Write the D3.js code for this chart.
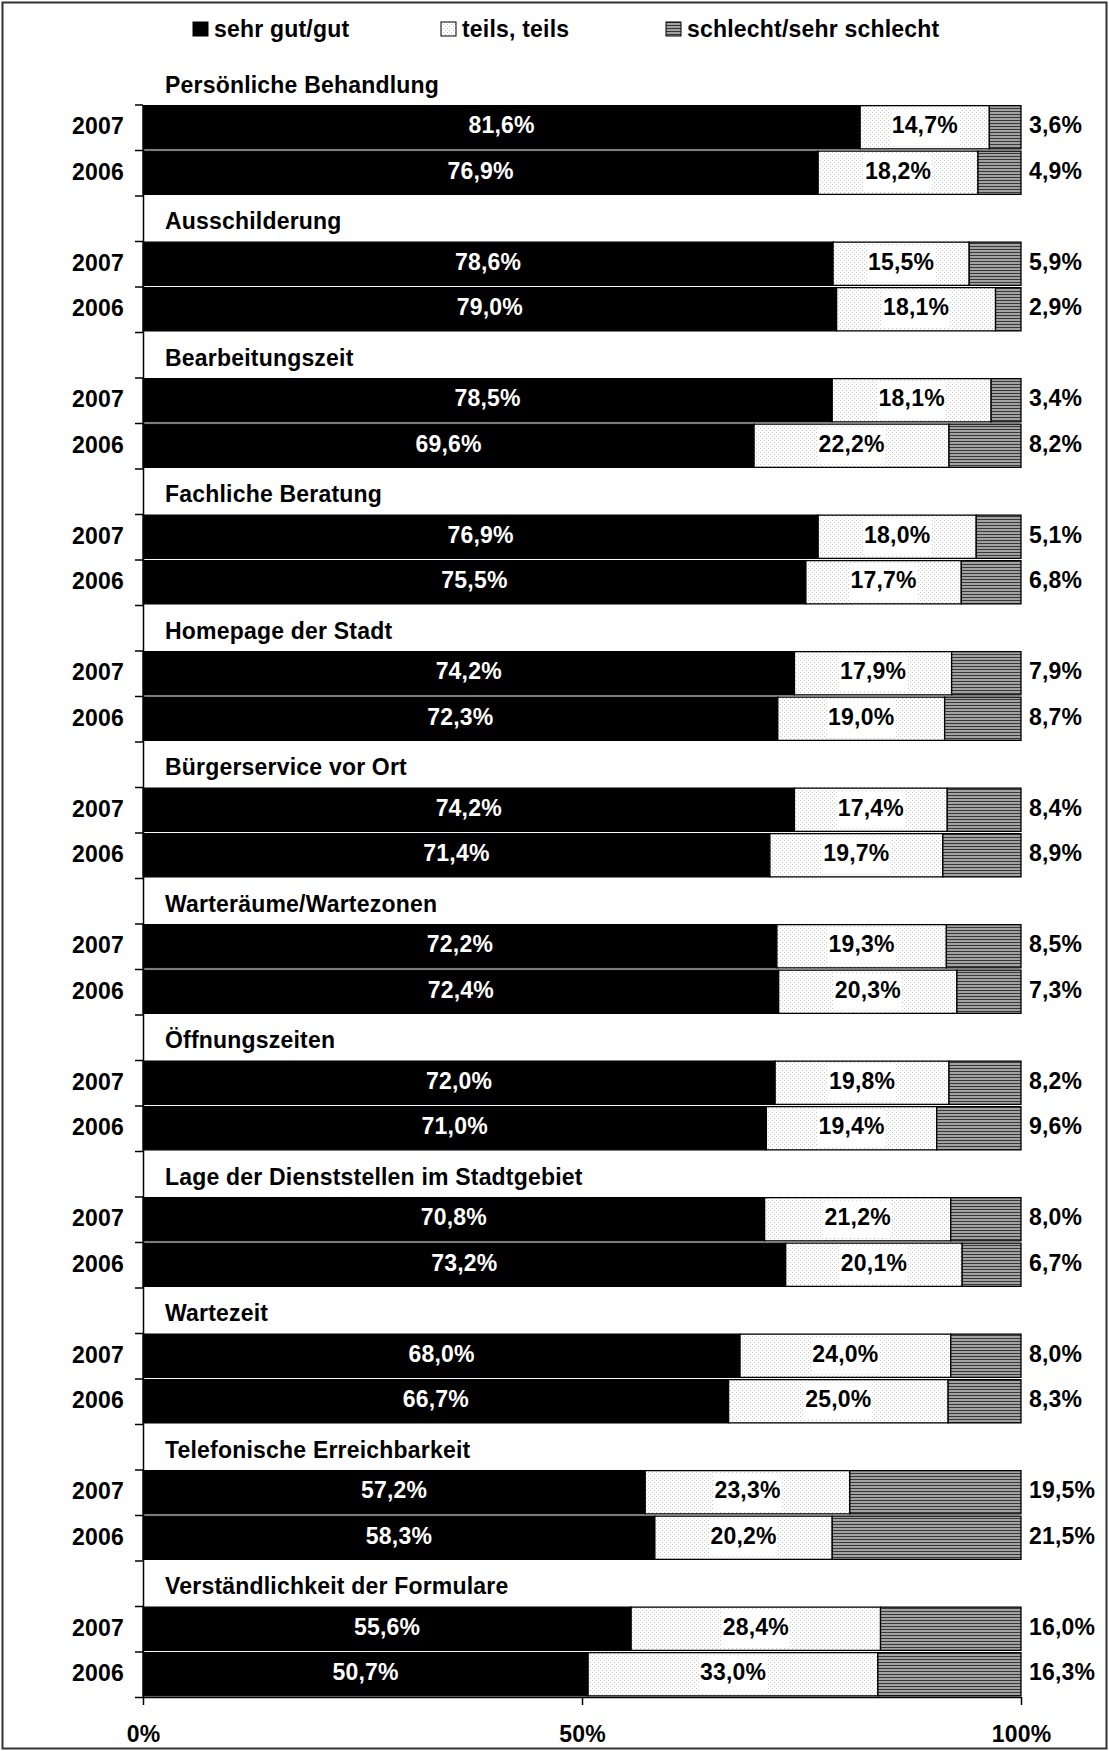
<!DOCTYPE html>
<html lang="de">
<head>
    <meta charset="UTF-8">
    <title>Zufriedenheit 2006/2007</title>
    <style>
        body {
            margin: 0;
            background: #fff;
        }
        svg text {
            font-family: "Liberation Sans", Arial, sans-serif;
            font-weight: bold;
            font-size: 23px;
            letter-spacing: 0.2px;
        }
        .axis path, .axis line {
            stroke: #000;
            stroke-width: 1.5px;
        }
    </style>
    <script src="https://d3js.org/d3.v7.min.js"></script>
</head>
<body>
<div id="chart"></div>
<script>
    // data
    var categories = ["Persönliche Behandlung", "Ausschilderung", "Bearbeitungszeit", "Fachliche Beratung",
        "Homepage der Stadt", "Bürgerservice vor Ort", "Warteräume/Wartezonen", "Öffnungszeiten",
        "Lage der Dienststellen im Stadtgebiet", "Wartezeit", "Telefonische Erreichbarkeit",
        "Verständlichkeit der Formulare"];
    var years = ["2007", "2006"];
    var seriesNames = ["sehr gut/gut", "teils, teils", "schlecht/sehr schlecht"];

    var good2007 = [81.6, 78.6, 78.5, 76.9, 74.2, 74.2, 72.2, 72.0, 70.8, 68.0, 57.2, 55.6];
    var mid2007  = [14.7, 15.5, 18.1, 18.0, 17.9, 17.4, 19.3, 19.8, 21.2, 24.0, 23.3, 28.4];
    var bad2007  = [3.6, 5.9, 3.4, 5.1, 7.9, 8.4, 8.5, 8.2, 8.0, 8.0, 19.5, 16.0];
    var good2006 = [76.9, 79.0, 69.6, 75.5, 72.3, 71.4, 72.4, 71.0, 73.2, 66.7, 58.3, 50.7];
    var mid2006  = [18.2, 18.1, 22.2, 17.7, 19.0, 19.7, 20.3, 19.4, 20.1, 25.0, 20.2, 33.0];
    var bad2006  = [4.9, 2.9, 8.2, 6.8, 8.7, 8.9, 7.3, 9.6, 6.7, 8.3, 21.5, 16.3];
    var axisTicks = [0, 0.5, 1];

    var width = 1109, height = 1751;
    var margin = {left: 143, right: 88, top: 59, bottom: 54};

    // one title row + two year rows per category
    var rows = [];
    var bars = [];
    categories.forEach(function (c, i) {
        rows.push("t" + i);
        rows.push(i + "-" + years[0]);
        rows.push(i + "-" + years[1]);
        bars.push({key: i + "-" + years[0], year: years[0], good: good2007[i], mid: mid2007[i], bad: bad2007[i]});
        bars.push({key: i + "-" + years[1], year: years[1], good: good2006[i], mid: mid2006[i], bad: bad2006[i]});
    });

    var de = d3.formatLocale({decimal: ",", thousands: ".", grouping: [3], currency: ["", " €"]});
    var fmt = de.format(".1f");

    var svg = d3.select("#chart").append("svg")
        .attr("width", width)
        .attr("height", height);

    // patterns
    var defs = svg.append("defs");
    var dots = defs.append("pattern")
        .attr("id", "dots")
        .attr("patternUnits", "userSpaceOnUse")
        .attr("width", 4).attr("height", 4);
    dots.append("rect").attr("width", 4).attr("height", 4).attr("fill", "#fff");
    dots.append("rect").attr("x", 0).attr("y", 0).attr("width", 1).attr("height", 1).attr("fill", "#c4c4c4");
    dots.append("rect").attr("x", 2).attr("y", 2).attr("width", 1).attr("height", 1).attr("fill", "#c4c4c4");

    var stripes = defs.append("pattern")
        .attr("id", "stripes")
        .attr("patternUnits", "userSpaceOnUse")
        .attr("width", 6).attr("height", 3);
    stripes.append("rect").attr("width", 6).attr("height", 3).attr("fill", "#a2a2a2");
    stripes.append("rect").attr("width", 6).attr("height", 1).attr("fill", "#383838");

    var fills = ["#000", "url(#dots)", "url(#stripes)"];

    // frame
    svg.append("rect")
        .attr("x", 2.5).attr("y", 2.5)
        .attr("width", width - 5).attr("height", height - 5)
        .attr("fill", "none")
        .attr("stroke", "#333")
        .attr("stroke-width", 2);

    var x = d3.scaleLinear()
        .domain([0, 1])
        .range([margin.left, width - margin.right]);

    var y = d3.scaleBand()
        .domain(rows)
        .range([margin.top, height - margin.bottom])
        .paddingInner(0.05)
        .paddingOuter(0.025);

    var yEdge = d3.scaleLinear()
        .domain([0, rows.length])
        .range([margin.top, height - margin.bottom]);

    var stack = d3.stack()
        .keys(["good", "mid", "bad"])
        .offset(d3.stackOffsetExpand);
    var layers = stack(bars);

    var groups = svg.selectAll("g.layer")
        .data(layers)
        .enter()
        .append("g")
        .attr("class", "layer")
        .attr("fill", function (d, i) { return fills[i]; });

    groups.selectAll("rect")
        .data(function (d) { return d; })
        .enter()
        .append("rect")
        .attr("x", function (d) { return x(d[0]); })
        .attr("y", function (d) { return y(d.data.key); })
        .attr("width", function (d) { return x(d[1]) - x(d[0]); })
        .attr("height", y.bandwidth())
        .attr("stroke", "#000")
        .attr("stroke-width", 1.3);

    // left axis: starts under the first title, ticks between rows
    var yAxisScale = yEdge.copy().domain([1, rows.length]).range([yEdge(1), yEdge(rows.length)]);
    svg.append("g")
        .attr("class", "axis")
        .attr("transform", "translate(" + margin.left + ",0)")
        .call(d3.axisLeft(yAxisScale).tickValues(d3.range(1, rows.length + 1)).tickFormat("").tickSize(8).tickSizeOuter(0));

    // bottom axis
    var xAxis = svg.append("g")
        .attr("class", "axis")
        .attr("transform", "translate(0," + (height - margin.bottom) + ")")
        .call(d3.axisBottom(x).tickValues(axisTicks).tickFormat(d3.format(".0%")).tickSize(8).tickSizeOuter(0).tickPadding(21));
    xAxis.selectAll("text")
        .attr("fill", "#000")
        .style("font-size", "23px")
        .style("font-family", "'Liberation Sans', Arial, sans-serif");

    // category titles
    svg.selectAll("text.title")
        .data(categories)
        .enter()
        .append("text")
        .attr("class", "title")
        .attr("x", margin.left + 22)
        .attr("y", function (d, i) { return y("t" + i) + y.bandwidth() / 2 + 11; })
        .text(function (d) { return d; });

    // year labels
    svg.selectAll("text.year")
        .data(bars)
        .enter()
        .append("text")
        .attr("class", "year")
        .attr("x", 124)
        .attr("y", function (d) { return y(d.key) + y.bandwidth() / 2 + 7; })
        .attr("text-anchor", "end")
        .text(function (d) { return d.year; });

    // value labels: sehr gut/gut (white, centred)
    svg.selectAll("text.good")
        .data(layers[0])
        .enter()
        .append("text")
        .attr("class", "good")
        .attr("x", function (d) { return (x(d[0]) + x(d[1])) / 2; })
        .attr("y", function (d) { return y(d.data.key) + y.bandwidth() / 2 + 6; })
        .attr("text-anchor", "middle")
        .attr("fill", "#fff")
        .text(function (d) { return fmt(d.data.good) + "%"; });

    // teils, teils: black text on a white box
    var mids = svg.selectAll("g.mid")
        .data(layers[1])
        .enter()
        .append("g")
        .attr("class", "mid");
    mids.append("rect").attr("fill", "#fff");
    var midText = mids.append("text")
        .attr("x", function (d) { return (x(d[0]) + x(d[1])) / 2; })
        .attr("y", function (d) { return y(d.data.key) + y.bandwidth() / 2 + 6; })
        .attr("text-anchor", "middle")
        .attr("fill", "#000")
        .text(function (d) { return fmt(d.data.mid) + "%"; });
    midText.each(function (d) {
        var bb = this.getBBox();
        d3.select(this.parentNode).select("rect")
            .attr("x", bb.x - 1)
            .attr("y", y(d.data.key) + 3)
            .attr("width", bb.width + 2)
            .attr("height", y.bandwidth() - 6);
    });

    // schlecht: outside, right of the bar
    svg.selectAll("text.bad")
        .data(layers[2])
        .enter()
        .append("text")
        .attr("class", "bad")
        .attr("x", x(1) + 8)
        .attr("y", function (d) { return y(d.data.key) + y.bandwidth() / 2 + 6; })
        .text(function (d) { return fmt(d.data.bad) + "%"; });

    // legend
    var legendX = [193, 441, 666];
    var legend = svg.selectAll("g.legend")
        .data(seriesNames)
        .enter()
        .append("g")
        .attr("class", "legend")
        .attr("transform", function (d, i) { return "translate(" + legendX[i] + ",22)"; });
    legend.append("rect")
        .attr("width", 15)
        .attr("height", 14)
        .attr("fill", function (d, i) { return fills[i]; })
        .attr("stroke", "#000")
        .attr("stroke-width", 1);
    legend.append("text")
        .attr("x", 21)
        .attr("y", 14.5)
        .text(function (d) { return d; });
</script>
</body>
</html>
